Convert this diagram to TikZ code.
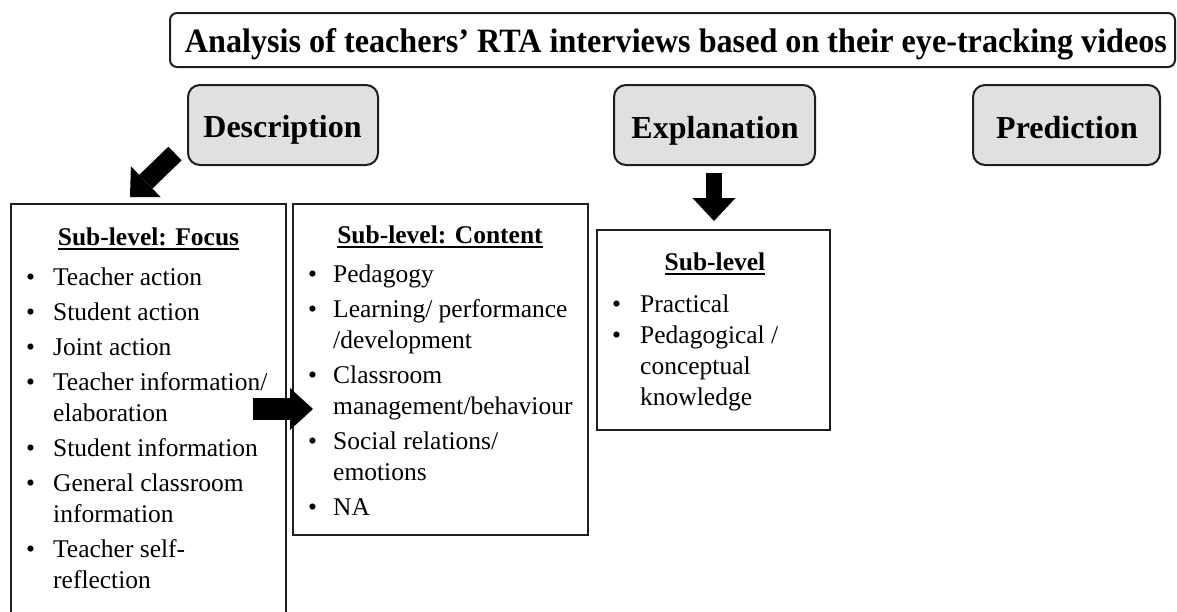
\documentclass[tikz,border=0pt]{standalone}
\usepackage{fontspec}
\setmainfont{Liberation Serif}
\usepackage{graphicx}
\usetikzlibrary{arrows.meta}
\definecolor{boxgray}{RGB}{224,224,224}
\definecolor{edge}{RGB}{30,30,30}
\newcommand{\ulhead}[1]{{\setbox0\hbox{\bfseries #1}\rlap{\rule[-4.5pt]{\wd0}{1.8pt}}\box0}}
\newcommand{\bul}{\textbullet}
\begin{document}
\begin{tikzpicture}[x=1pt,y=-1pt,
  titlebox/.style={draw=edge, line width=2pt, rounded corners=7pt, inner sep=0pt, outer sep=0pt},
  levelbox/.style={draw=edge, line width=2pt, fill=boxgray, rounded corners=12pt, inner sep=0pt, outer sep=0pt, minimum height=80pt},
  subbox/.style={draw=edge, line width=2.5pt, inner sep=0pt, outer sep=0pt, anchor=north west},
  leveltext/.style={font=\fontsize{32}{38}\selectfont\bfseries, inner sep=0pt, anchor=base},
  headtext/.style={font=\fontsize{25.5}{31}\selectfont, inner sep=0pt, anchor=base},
  listtext/.style={font=\fontsize{25.5}{31}\selectfont, inner sep=0pt, anchor=base west},
  blockarrow/.style={line width=#1, draw=black}
]
\path[use as bounding box] (0,0) rectangle (1177,611);
\clip (0,0) rectangle (1177,611);

% title
\node[titlebox, minimum width=1005pt, minimum height=54pt] (title) at (672.5,40) {};
\node[inner sep=0pt, anchor=base] (titlet) at (676,52)
  {\resizebox{982pt}{24pt}{\bfseries Analysis of teachers’ RTA interviews based on their eye-tracking videos}};

% levels
\node[levelbox, minimum width=190pt] (desc) at (283,125) {};
\node[levelbox, minimum width=201pt] (expl) at (714.5,125) {};
\node[levelbox, minimum width=187pt] (pred) at (1066.5,125) {};
\node[leveltext] (desct) at (282.5,137) {Description};
\node[leveltext] (explt) at (715,138) {Explanation};
\node[leveltext] (predt) at (1067,138) {Prediction};

% sub-level boxes
\node[subbox, minimum width=275pt, minimum height=440pt] (focus) at (11,204) {};
\node[subbox, minimum width=295pt, minimum height=331pt] (content) at (293,204) {};
\node[subbox, minimum width=233pt, minimum height=200pt] (sub) at (597,230) {};

% headings
\node[headtext] (fh) at (148.5,245) {\ulhead{Sub-level: Focus}};
\node[headtext] (ch) at (440,243) {\ulhead{Sub-level: Content}};
\node[headtext] (sh) at (715,270) {\ulhead{Sub-level}};

% lists
\node[listtext] (fl) at (26,285) {\begin{tabular}[t]{@{}p{27pt}@{}l@{}}
\bul & Teacher action\\[4pt]
\bul & Student action\\[4pt]
\bul & Joint action\\[4pt]
\bul & Teacher information/\\
     & elaboration\\[4pt]
\bul & Student information\\[4pt]
\bul & General classroom\\
     & information\\[4pt]
\bul & Teacher self-\\
     & reflection
\end{tabular}};

\node[listtext] (cl) at (308,282) {\begin{tabular}[t]{@{}p{25pt}@{}l@{}}
\bul & Pedagogy\\[4pt]
\bul & Learning/ performance\\
     & /development\\[4pt]
\bul & Classroom\\
     & management/behaviour\\[4pt]
\bul & Social relations/\\
     & emotions\\[4pt]
\bul & NA
\end{tabular}};

\node[listtext] (sl) at (612,312) {\begin{tabular}[t]{@{}p{28pt}@{}l@{}}
\bul & Practical\\
\bul & Pedagogical /\\
     & conceptual\\
     & knowledge
\end{tabular}};

% block arrows
\coordinate (a1s) at (175,153.5);
\coordinate (a1e) at (130,197);
\coordinate (a2s) at (714,173);
\coordinate (a2e) at (714,221);
\coordinate (a3s) at (253,409);
\coordinate (a3e) at (313,409);
\draw[blockarrow=19pt, -{Triangle[length=22pt,width=43pt,line width=0pt]}] (a1s) -- (a1e);
\draw[blockarrow=16pt, -{Triangle[length=23pt,width=43pt,line width=0pt]}] (a2s) -- (a2e);
\draw[blockarrow=22pt, -{Triangle[length=23pt,width=42pt,line width=0pt]}] (a3s) -- (a3e);
\end{tikzpicture}
\end{document}
